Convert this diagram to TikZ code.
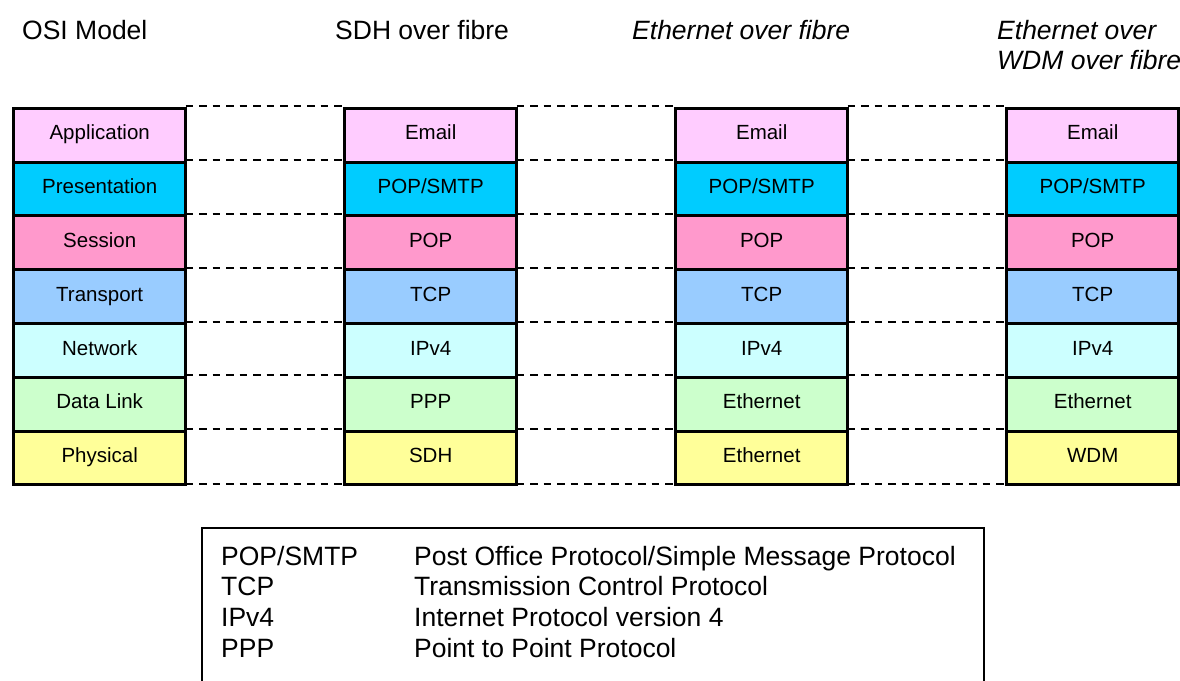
\documentclass[tikz,border=0pt]{standalone}
\usepackage{fontspec}
\setmainfont{Liberation Sans}
\definecolor{cApp}{HTML}{FFCCFF}
\definecolor{cPres}{HTML}{00CCFF}
\definecolor{cSess}{HTML}{FF99CC}
\definecolor{cTrans}{HTML}{99CCFF}
\definecolor{cNet}{HTML}{CCFFFF}
\definecolor{cLink}{HTML}{CCFFCC}
\definecolor{cPhys}{HTML}{FFFF99}
\begin{document}
\begin{tikzpicture}[x=1pt,y=-1pt,
  layerbox/.style={draw=black, line width=3pt, minimum width=172pt, minimum height=53.8pt,
    inner sep=0pt, outer sep=0pt, anchor=north west},
  layername/.style={anchor=base, inner sep=0pt, yshift=-4.7pt, font=\fontsize{20.5}{24}\selectfont},
  peerline/.style={dash pattern=on 7.5pt off 6pt, line width=2pt},
  heading/.style={anchor=base west, inner sep=0pt, font=\fontsize{26.5}{30}\selectfont},
  legendtxt/.style={anchor=base west, inner sep=0pt, font=\fontsize{26.5}{30}\selectfont},
  legendframe/.style={draw=black, line width=1.5pt}]
\clip (0,0) rectangle (1180,680);
\fill[white] (0,0) rectangle (1180,680);

% column headings
\node[heading] (h1) at (22,39) {OSI Model};
\node[heading] (h2) at (335,39) {SDH over fibre};
\node[heading] (h3) at (632,39) {\itshape Ethernet over fibre};
\node[heading] (h4a) at (997,39) {\itshape Ethernet over};
\node[heading] (h4b) at (997,69) {\itshape WDM over fibre};

% protocol stacks
\foreach \c/\x in {1/13.7, 2/344.7, 3/675.7, 4/1006.7} {
  \foreach \r/\col in {1/cApp, 2/cPres, 3/cSess, 4/cTrans, 5/cNet, 6/cLink, 7/cPhys} {
    \node[layerbox, fill=\col] (c\c r\r) at (\x, {108.3 + (\r-1)*53.8}) {};
  }
}

% layer names
\foreach \c/\a/\b/\cc/\d/\e/\f/\g in {
  1/Application/Presentation/Session/Transport/Network/Data Link/Physical,
  2/Email/POP\slash SMTP/POP/TCP/IPv4/PPP/SDH,
  3/Email/POP\slash SMTP/POP/TCP/IPv4/Ethernet/Ethernet,
  4/Email/POP\slash SMTP/POP/TCP/IPv4/Ethernet/WDM} {
  \node[layername] (t\c r1) at (c\c r1.center) {\a};
  \node[layername] (t\c r2) at (c\c r2.center) {\b};
  \node[layername] (t\c r3) at (c\c r3.center) {\cc};
  \node[layername] (t\c r4) at (c\c r4.center) {\d};
  \node[layername] (t\c r5) at (c\c r5.center) {\e};
  \node[layername] (t\c r6) at (c\c r6.center) {\f};
  \node[layername] (t\c r7) at (c\c r7.center) {\g};
}

% peer-layer dashed links between neighbouring stacks
\foreach \c/\n in {1/2, 2/3, 3/4} {
  \foreach \r in {1,...,7} {
    \draw[peerline] ([yshift=2pt]c\c r\r.north east) -- ([yshift=2pt]c\n r\r.north west);
  }
  \draw[peerline] ([yshift=1pt]c\c r7.south east) -- ([yshift=1pt]c\n r7.south west);
}

% abbreviations legend
\draw[legendframe] (202,528) rectangle (984,700);
\node[legendtxt] (k1) at (221,565) {POP/SMTP};
\node[legendtxt] (k2) at (221,595) {TCP};
\node[legendtxt] (k3) at (221,626) {IPv4};
\node[legendtxt] (k4) at (221,657) {PPP};
\node[legendtxt] (v1) at (414,565) {Post Office Protocol/Simple Message Protocol};
\node[legendtxt] (v2) at (414,595) {Transmission Control Protocol};
\node[legendtxt] (v3) at (414,626) {Internet Protocol version 4};
\node[legendtxt] (v4) at (414,657) {Point to Point Protocol};
\end{tikzpicture}
\end{document}
